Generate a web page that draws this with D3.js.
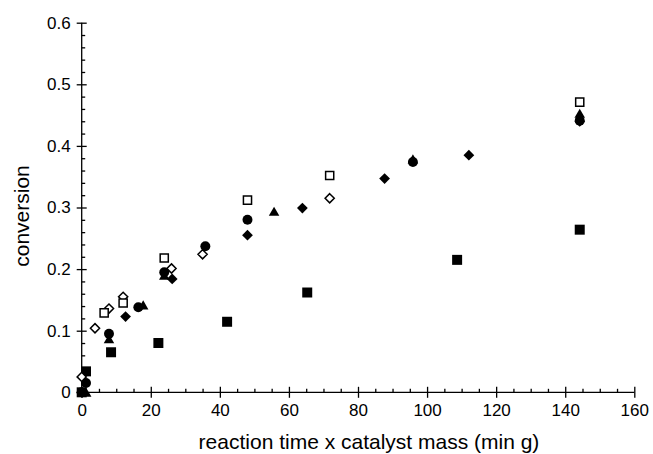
<!DOCTYPE html>
<html>
<head>
<meta charset="utf-8">
<script src="https://cdn.jsdelivr.net/npm/d3@7"></script>
<style>
  body { margin: 0; background: #fff; }
  svg { display: block; font-family: "Liberation Sans", Arial, sans-serif; }
  .axis path, .axis line { stroke: #000; stroke-width: 1.3; }
  .axis text { font-size: 17px; fill: #000; }
  .axis-title { font-size: 21px; fill: #000; }
</style>
</head>
<body>
<div id="chart"></div>
<script>
// Conversion vs. (reaction time x catalyst mass), six runs with different markers.
const xTicks = [0, 20, 40, 60, 80, 100, 120, 140, 160];
const yTicks = [0, 0.1, 0.2, 0.3, 0.4, 0.5, 0.6];

const sqFilledX = [0, 1.25, 8.5, 22.2, 42.1, 65.3, 108.7, 144.2];
const sqFilledY = [0, 0.034, 0.065, 0.080, 0.1145, 0.162, 0.215, 0.264];
const circleX = [0, 1.25, 7.9, 16.4, 23.9, 35.8, 48.0, 95.9, 144.2];
const circleY = [0, 0.015, 0.095, 0.138, 0.195, 0.237, 0.280, 0.374, 0.441];
const triX = [1.3, 7.9, 17.8, 23.9, 55.7, 95.9, 144.2];
const triY = [0, 0.087, 0.142, 0.190, 0.294, 0.379, 0.453];
const sqOpenX = [6.5, 12.0, 23.9, 48.0, 71.8, 144.2];
const sqOpenY = [0.129, 0.145, 0.218, 0.312, 0.352, 0.471];
const diaFilledX = [0, 12.7, 26.2, 48.0, 63.9, 87.7, 112.1, 144.2];
const diaFilledY = [0, 0.123, 0.184, 0.255, 0.299, 0.347, 0.385, 0.440];
const diaOpenX = [0, 3.85, 7.9, 12.0, 26.0, 35.0, 71.8];
const diaOpenY = [0.025, 0.104, 0.136, 0.155, 0.201, 0.224, 0.315];

const W = 653, H = 454;
const x = d3.scaleLinear([0, 160], [81.7, 634.3]);
const y = d3.scaleLinear([0, 0.6], [392.3, 22.7]);

const svg = d3.select("#chart").append("svg").attr("width", W).attr("height", H);

// rotated square (the d3 diamond is elongated)
const diamond = { draw(ctx, size) {
  const r = Math.sqrt(size / 2);
  ctx.moveTo(0, -r); ctx.lineTo(r, 0); ctx.lineTo(0, r); ctx.lineTo(-r, 0); ctx.closePath();
} };
// triangle centred on its bounding box
const triangle = { draw(ctx, size) {
  const s = Math.sqrt(size * 4 / Math.sqrt(3)), h = s * Math.sqrt(3) / 2;
  ctx.moveTo(0, -h / 2); ctx.lineTo(s / 2, h / 2); ctx.lineTo(-s / 2, h / 2); ctx.closePath();
} };

// axes: major ticks cross the line, minor ticks point inward
const xAxis = svg.append("g").attr("class", "axis").attr("transform", `translate(0,${y(0)})`)
  .call(d3.axisBottom(x).tickValues(xTicks).tickSize(5.5).tickPadding(6).tickFormat((d) => d));
xAxis.selectAll(".tick line").attr("y1", -5.5);
svg.append("g").attr("class", "axis").attr("transform", `translate(0,${y(0)})`)
  .call(d3.axisTop(x).tickValues(d3.range(5, 160, 5).filter((d) => d % 20)).tickSize(3.5).tickFormat(""))
  .select(".domain").remove();

const yAxis = svg.append("g").attr("class", "axis").attr("transform", `translate(${x(0)},0)`)
  .call(d3.axisLeft(y).tickValues(yTicks).tickSize(5).tickPadding(6).tickFormat((d) => d));
yAxis.selectAll(".tick line").attr("x1", 5);
svg.append("g").attr("class", "axis").attr("transform", `translate(${x(0)},0)`)
  .call(d3.axisRight(y).tickValues(d3.range(1, 30).filter((i) => i % 5).map((i) => i * 0.02)).tickSize(3.5).tickFormat(""))
  .select(".domain").remove();
svg.selectAll(".axis .domain").attr("d", null);
xAxis.select(".domain").attr("d", `M${x(0)},0H${x(160)}`);
yAxis.select(".domain").attr("d", `M0,${y(0)}V${y(0.6)}`);

svg.append("text").attr("class", "axis-title").attr("text-anchor", "middle")
  .attr("x", 369).attr("y", 449).text("reaction time x catalyst mass (min g)");
svg.append("text").attr("class", "axis-title").attr("text-anchor", "middle")
  .attr("transform", "translate(29,216) rotate(-90)").text("conversion");

const series = [
  { xs: sqFilledX, ys: sqFilledY, type: d3.symbolSquare, size: 100, fill: "#000", stroke: "none" },
  { xs: triX, ys: triY, type: triangle, size: 48, fill: "#000", stroke: "none" },
  { xs: circleX, ys: circleY, type: d3.symbolCircle, size: 78, fill: "#000", stroke: "none" },
  { xs: diaFilledX, ys: diaFilledY, type: diamond, size: 58, fill: "#000", stroke: "none" },
  { xs: diaOpenX, ys: diaOpenY, type: diamond, size: 42, fill: "#fff", stroke: "#000" },
  { xs: sqOpenX, ys: sqOpenY, type: d3.symbolSquare, size: 66, fill: "#fff", stroke: "#000" },
];

for (const s of series) {
  svg.append("g").selectAll("path").data(s.xs.map((v, i) => [v, s.ys[i]])).join("path")
    .attr("transform", (d) => `translate(${x(d[0])},${y(d[1])})`)
    .attr("d", d3.symbol(s.type, s.size))
    .attr("fill", s.fill).attr("stroke", s.stroke).attr("stroke-width", 1.5);
}
</script>
</body>
</html>
